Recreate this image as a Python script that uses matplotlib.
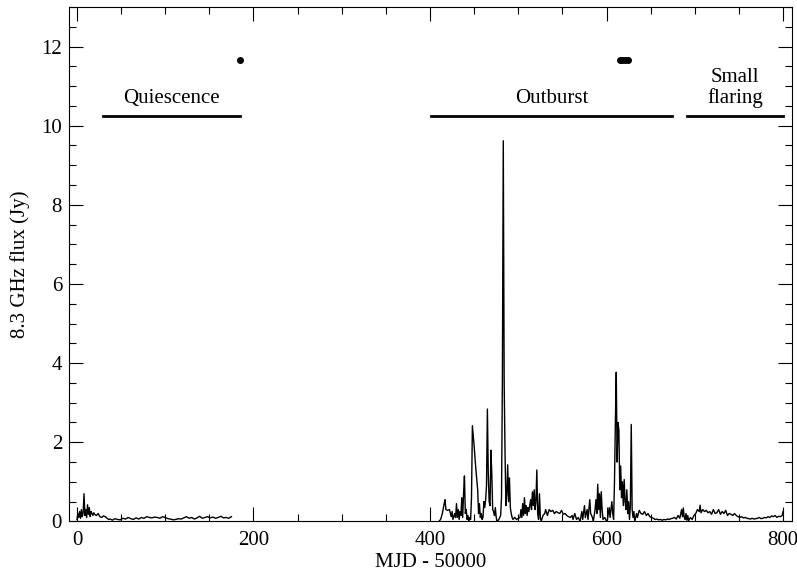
import matplotlib.pyplot as plt
import numpy as np
from matplotlib.ticker import MultipleLocator

plt.rcParams['font.family'] = ['Liberation Serif', 'DejaVu Serif']

# quiescent stretch, MJD-50000 and 8.3 GHz flux (Jy)
q_mjd = [0, 1, 2, 3, 4, 5, 6, 7, 8, 9, 10, 11, 12, 13, 14, 15, 16, 17, 18, 19,
         20, 22, 24, 26, 28, 30, 32, 34, 36, 38, 40, 43, 46, 49, 52, 55, 58, 61,
         64, 67, 70, 73, 76, 79, 82, 85, 88, 91, 94, 97, 100, 103, 106, 109, 112,
         115, 118, 121, 124, 127, 130, 133, 136, 139, 142, 145, 148, 151, 154,
         157, 160, 163, 166, 169, 172, 175]
q_flux = [0.05, 0.2, 0.1, 0.25, 0.08, 0.3, 0.12, 0.22, 0.7, 0.15, 0.3, 0.1, 0.42,
          0.18, 0.35, 0.12, 0.25, 0.2, 0.15, 0.22, 0.18, 0.15, 0.2, 0.12, 0.1,
          0.14, 0.12, 0.08, 0.05, 0.06, 0.03, 0.07, 0.05, 0.04, 0.08, 0.06, 0.1,
          0.07, 0.05, 0.09, 0.06, 0.1, 0.08, 0.12, 0.1, 0.09, 0.11, 0.1, 0.08,
          0.12, 0.1, 0.07, 0.06, 0.04, 0.05, 0.07, 0.06, 0.09, 0.12, 0.08, 0.1,
          0.06, 0.09, 0.13, 0.08, 0.1, 0.12, 0.09, 0.11, 0.08, 0.1, 0.13, 0.09,
          0.1, 0.08, 0.12]

# outburst and small flaring stretch
o_mjd = [410, 412, 414, 416, 417, 418, 420, 422, 424, 425, 426, 428, 429, 430,
         431, 432, 433, 434, 435, 436, 437, 438, 439, 440, 441, 442, 443, 444,
         445, 446, 447, 448, 450, 452, 454, 455, 456, 457, 458, 459, 460, 461,
         462, 463, 464, 465, 466, 467, 468, 469, 470, 471, 472, 473, 474, 475,
         476, 477, 478, 479, 480, 481, 482, 483, 484, 485, 486, 487, 488, 489,
         490, 491, 492, 493, 494, 496, 498, 500, 502, 503, 504, 505, 506, 507,
         508, 509, 510, 511, 512, 514, 515, 516, 517, 518, 519, 520, 521, 522,
         523, 524, 525, 526, 528, 530, 531, 533, 535, 537, 539, 541, 543, 545,
         547, 549, 551, 553, 555, 557, 559, 561, 562, 564, 566, 568, 570, 572,
         573, 575, 576, 578, 579, 581, 582, 584, 585, 587, 588, 589, 590, 591,
         592, 593, 594, 595, 596, 598, 600, 601, 603, 604, 606, 607, 608, 609,
         610, 611, 612, 613, 614, 615, 616, 617, 618, 619, 620, 621, 622, 623,
         624, 625, 626, 627, 628, 629, 630, 631, 632, 634, 635, 637, 639, 641,
         643, 645, 647, 649, 651, 653, 655, 657, 659, 661, 663, 665, 667, 669,
         671, 673, 675, 677, 679, 681, 683, 685, 686, 687, 688, 689, 690, 691,
         692, 693, 695, 697, 699, 701, 703, 705, 706, 707, 709, 711, 713, 715,
         717, 719, 721, 723, 725, 727, 729, 731, 733, 735, 737, 739, 741, 743,
         745, 747, 749, 751, 753, 755, 757, 759, 761, 763, 765, 767, 769, 771,
         773, 775, 777, 779, 781, 783, 785, 787, 789, 791, 793, 795, 797, 799,
         800]
o_flux = [0.0, 0.05, 0.2, 0.45, 0.55, 0.3, 0.28, 0.3, 0.12, 0.25, 0.05, 0.2, 0.1,
          0.45, 0.1, 0.3, 0.05, 0.25, 0.15, 0.6, 0.1, 0.7, 1.15, 0.2, 0.3, 0.05,
          0.15, 0.0, 0.1, 0.05, 0.6, 2.42, 1.9, 1.3, 0.8, 0.2, 0.45, 0.1, 0.2,
          0.05, 0.1, 0.5, 0.35, 0.55, 0.9, 2.84, 1.2, 0.5, 0.4, 1.8, 1.2, 0.3,
          0.25, 0.15, 0.35, 0.1, 0.0, 0.02, 0.05, 0.1, 0.15, 0.6, 3.6, 9.62, 3.55,
          1.7, 0.4, 0.7, 1.43, 0.5, 1.1, 0.35, 0.2, 0.1, 0.05, 0.1, 0.05, 0.08,
          0.1, 0.3, 0.1, 0.45, 0.15, 0.6, 0.2, 0.4, 0.15, 0.35, 0.25, 0.55, 0.3,
          0.75, 0.4, 0.8, 0.3, 0.5, 1.3, 0.2, 0.05, 0.7, 0.1, 0.0, 0.15, 0.2,
          0.3, 0.15, 0.3, 0.25, 0.28, 0.2, 0.25, 0.22, 0.2, 0.28, 0.18, 0.2,
          0.15, 0.12, 0.1, 0.15, 0.05, 0.2, 0.05, 0.1, 0.0, 0.25, 0.05, 0.4, 0.1,
          0.3, 0.05, 0.55, 0.2, 0.1, 0.0, 0.3, 0.55, 0.2, 0.94, 0.3, 0.7, 0.1,
          0.75, 0.3, 0.05, 0.1, 0.0, 0.05, 0.35, 0.1, 0.5, 0.2, 0.05, 1.0, 2.5,
          3.77, 1.5, 2.5, 2.3, 0.8, 1.4, 0.6, 1.0, 0.4, 1.06, 0.5, 0.3, 0.8, 0.2,
          0.5, 0.05, 0.4, 2.45, 0.3, 0.1, 0.25, 0.0, 0.2, 0.1, 0.28, 0.2, 0.18,
          0.25, 0.15, 0.2, 0.12, 0.1, 0.08, 0.05, 0.06, 0.04, 0.05, 0.03, 0.05,
          0.04, 0.06, 0.05, 0.07, 0.08, 0.1, 0.06, 0.15, 0.08, 0.3, 0.12, 0.34,
          0.1, 0.05, 0.2, 0.03, 0.15, 0.02, 0.1, 0.05, 0.15, 0.2, 0.3, 0.25,
          0.41, 0.22, 0.3, 0.25, 0.28, 0.22, 0.25, 0.18, 0.3, 0.2, 0.22, 0.3,
          0.18, 0.25, 0.2, 0.28, 0.15, 0.2, 0.18, 0.15, 0.2, 0.15, 0.12, 0.1,
          0.12, 0.09, 0.1, 0.08, 0.07, 0.06, 0.08, 0.06, 0.07, 0.08, 0.1, 0.07,
          0.08, 0.1, 0.09, 0.12, 0.1, 0.14, 0.12, 0.15, 0.1, 0.13, 0.12, 0.15,
          0.25]

# epochs marked above the light curve
mark_mjd = [185, 615, 618, 621, 624]
mark_y = 11.66

# state intervals
phase_names = ['Quiescence', 'Outburst', 'Small\nflaring']
phase_start = [30, 401, 691]
phase_end = [185, 674, 800]
bar_y = 10.25

fig = plt.figure(figsize=(7.97, 5.73), dpi=100)
ax = fig.add_axes([0.0866, 0.090, 0.907, 0.8978])

ax.plot(q_mjd, q_flux, color='black', lw=1.0)
ax.plot(o_mjd, o_flux, color='black', lw=1.0)
ax.plot(mark_mjd, [mark_y] * len(mark_mjd), 'o', color='black', ms=4)

for name, x0, x1 in zip(phase_names, phase_start, phase_end):
    ax.plot([x0, x1], [bar_y, bar_y], color='black', lw=2)
    ax.text((x0 + x1) / 2, bar_y + 0.2, name, ha='center', va='bottom',
            fontsize=15, linespacing=1.05)

ax.set_xlim(-9, 810)
ax.set_ylim(0, 13)
ax.xaxis.set_major_locator(MultipleLocator(200))
ax.xaxis.set_minor_locator(MultipleLocator(50))
ax.yaxis.set_major_locator(MultipleLocator(2))
ax.yaxis.set_minor_locator(MultipleLocator(0.5))
ax.tick_params(which='both', direction='in', top=True, right=True,
               labelsize=15, width=0.8)
ax.tick_params(which='major', length=10)
ax.tick_params(which='minor', length=5)
ax.tick_params(axis='x', pad=7)
ax.tick_params(axis='y', pad=5)
for s in ax.spines.values():
    s.set_linewidth(0.8)

ax.set_xlabel('MJD - 50000', fontsize=15, labelpad=2)
ax.set_ylabel('8.3 GHz flux (Jy)', fontsize=15, labelpad=8)

plt.savefig('out.png', dpi=100)
